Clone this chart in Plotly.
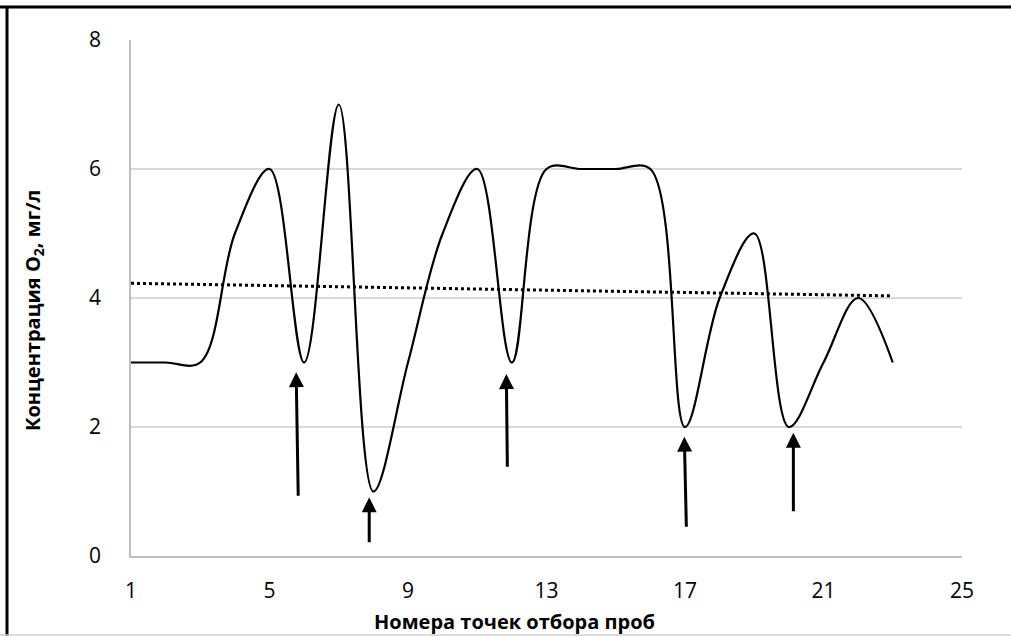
import numpy as np
import plotly.graph_objects as go

# Sampling point numbers and O2 concentration (mg/l)
points = list(range(1, 24))
o2 = [3, 3, 3, 5, 6, 3, 7, 1, 3, 5, 6, 3, 6, 6, 6, 6, 2, 4, 5, 2, 3, 4, 3]

x_ticks = [1, 5, 9, 13, 17, 21, 25]
y_ticks = [0, 2, 4, 6, 8]

# Arrow annotations: (tip_x, tip_y, tail_x, tail_y) in data units
arrow_tip_x = [5.77, 7.88, 11.84, 16.98, 20.13]
arrow_tip_y = [2.85, 0.91, 2.82, 1.85, 1.91]
arrow_tail_x = [5.83, 7.88, 11.87, 17.04, 20.13]
arrow_tail_y = [0.91, 0.19, 1.36, 0.43, 0.67]

# linear trend line
coef = np.polyfit(points, o2, 1)
trend = list(np.polyval(coef, points))

FONT = "Open Sans"

fig = go.Figure()
fig.add_trace(go.Scatter(
    x=points, y=o2, mode="lines",
    line=dict(color="black", width=2.2, shape="spline", smoothing=1.0),
    showlegend=False, hoverinfo="skip"))
fig.add_trace(go.Scatter(
    x=points, y=trend, mode="lines",
    line=dict(color="black", width=3, dash="dot"),
    showlegend=False, hoverinfo="skip"))

annotations = []
for tx, ty, ax, ay in zip(arrow_tip_x, arrow_tip_y, arrow_tail_x, arrow_tail_y):
    annotations.append(dict(
        x=tx, y=ty, ax=ax, ay=ay, xref="x", yref="y", axref="x", ayref="y",
        showarrow=True, arrowhead=2, arrowsize=1, arrowwidth=3,
        arrowcolor="black", text="", standoff=0, startstandoff=0))

annotations.append(dict(
    text="<b>Номера точек отбора проб</b>", xref="paper", yref="paper",
    x=0.461, y=-0.126, xanchor="center", yanchor="middle", showarrow=False,
    font=dict(family=FONT, size=20, color="black")))
annotations.append(dict(
    text="<b>Концентрация O<sub>2</sub>, мг/л</b>", xref="paper", yref="paper",
    x=-98/831, y=0.5 - 13/516, xanchor="center", yanchor="middle", showarrow=False,
    textangle=-90, font=dict(family=FONT, size=20, color="black")))

fig.update_layout(
    width=1011, height=637,
    margin=dict(l=131, r=49, t=40, b=81),
    paper_bgcolor="white", plot_bgcolor="white",
    font=dict(family=FONT, size=21, color="black"),
    annotations=annotations,
    shapes=[
        dict(type="line", xref="paper", yref="paper", x0=-131/831, x1=(1011-131)/831,
             y0=1+33/516, y1=1+33/516, line=dict(color="black", width=3)),
        dict(type="line", xref="paper", yref="paper", x0=-124/831, x1=-124/831,
             y0=1+34/516, y1=-80/516, line=dict(color="black", width=3)),
        dict(type="line", xref="paper", yref="paper", x0=-131/831, x1=(1011-131)/831,
             y0=-79/516, y1=-79/516, line=dict(color="#d0d0d0", width=1.5)),
    ],
)
fig.update_xaxes(
    range=[1, 25], tickvals=x_ticks, ticktext=[str(v) for v in x_ticks],
    showgrid=False, zeroline=False, showline=True, linecolor="#bfbfbf", linewidth=1.5,
    ticks="", ticklabelstandoff=15, tickfont=dict(family=FONT, size=21))
fig.update_yaxes(
    range=[0, 8], tickvals=y_ticks, showgrid=True, gridcolor="#d9d9d9", gridwidth=1.5,
    zeroline=False, showline=True, linecolor="#bfbfbf", linewidth=1.5,
    ticks="", ticklabelstandoff=24, tickfont=dict(family=FONT, size=21))

fig.write_html("out.html", config={"displayModeBar": False},
               post_script="document.body.style.margin='0';")
